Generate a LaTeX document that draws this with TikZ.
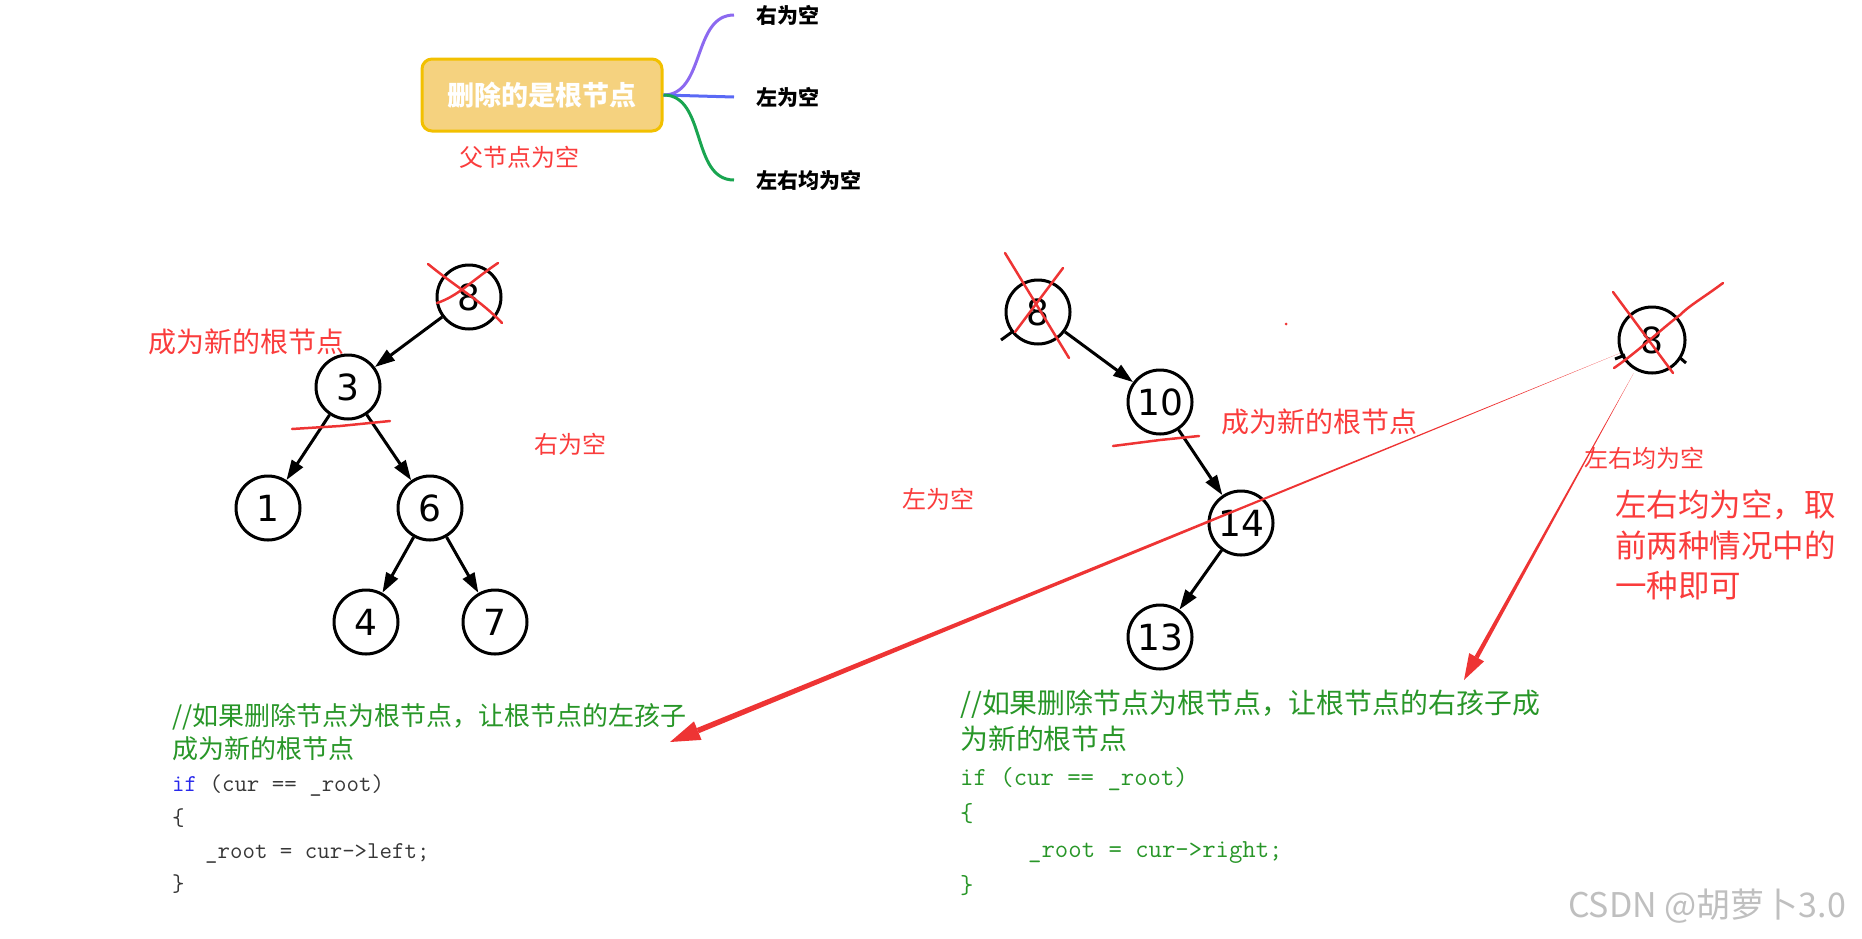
\documentclass[tikz,border=0pt]{standalone}
\usepackage{fontspec}
\newfontfamily\cjk{Noto Sans CJK SC}
\newfontfamily\numfont{DejaVu Sans}
\usetikzlibrary{arrows.meta,calc}

\begin{document}
\begin{tikzpicture}[
  x=1pt,y=-1pt,
  tnode/.style={circle,draw=black,line width=3pt,minimum size=64pt,inner sep=0pt,
    font=\numfont\fontsize{36}{36}\selectfont},
  tedge/.style={-{Triangle[length=20pt,width=13pt]},line width=3pt},
  cross/.style={draw=markred,line width=2.5pt,line cap=round},
  redlab/.style={text=labred,inner sep=0pt,font=\cjk\fontsize{#1}{#1}\selectfont},
  mmlab/.style={anchor=west,inner sep=0pt,font=\cjk\bfseries\fontsize{21}{21}\selectfont},
  branch/.style={line width=3pt,draw=#1}]

  \definecolor{markred}{RGB}{238,52,52}
  \definecolor{labred}{RGB}{250,60,60}
  \definecolor{boxfill}{RGB}{245,210,127}
  \definecolor{boxedge}{RGB}{242,192,0}
  \definecolor{brpurple}{RGB}{140,105,240}
  \definecolor{brblue}{RGB}{90,105,245}
  \definecolor{brgreen}{RGB}{25,165,80}
  \definecolor{cmtgreen}{RGB}{40,150,40}
  \definecolor{kwblue}{RGB}{40,40,235}
  \definecolor{codegray}{RGB}{55,55,55}

  \useasboundingbox (0,0) rectangle (1862,938);

  % ---- mind map ----
  \node[draw=boxedge,fill=boxfill,line width=3pt,rounded corners=10pt,
    minimum width=240pt,minimum height=72pt,text=white,
    font=\cjk\bfseries\fontsize{27}{27}\selectfont] (delroot) at (542,95) {删除的是根节点};
  \node[mmlab] (mmR) at (756,15) {右为空};
  \node[mmlab] (mmL) at (756,97) {左为空};
  \node[mmlab] (mmB) at (756,180) {左右均为空};
  \draw[branch=brpurple] (delroot.east) to[out=0,in=180] ([xshift=-22pt]mmR.west);
  \draw[branch=brblue] (delroot.east) -- ([xshift=-22pt]mmL.west);
  \draw[branch=brgreen] (delroot.east) to[out=0,in=180] ([xshift=-22pt]mmB.west);
  \node[redlab=24] (nullpar) at (519,157) {父节点为空};

  % ---- left tree: right is empty ----
  \node[tnode] (l8) at (469,297) {8};
  \node[tnode] (l3) at (348,387) {3};
  \node[tnode] (l1) at (268,508) {1};
  \node[tnode] (l6) at (430,508) {6};
  \node[tnode] (l4) at (366,622) {4};
  \node[tnode] (l7) at (495,622) {7};
  \draw[tedge] (l8) -- (l3);
  \draw[tedge] (l3) -- (l1);
  \draw[tedge] (l3) -- (l6);
  \draw[tedge] (l6) -- (l4);
  \draw[tedge] (l6) -- (l7);
  \draw[cross] (428,264) .. controls (460,290) and (480,300) .. (502,323);
  \draw[cross] (437,303) .. controls (458,296) and (470,282) .. (498,263);
  \draw[cross] (292,429) -- (340,426) -- (390,421);
  \node[redlab=28] (newrootL) at (246,342) {成为新的根节点};
  \node[redlab=24] (rempty) at (570,444) {右为空};

  % ---- middle tree: left is empty ----
  \node[tnode] (m8) at (1038,312) {8};
  \node[tnode] (m10) at (1160,402) {10};
  \node[tnode] (m14) at (1241,523) {14};
  \node[tnode] (m13) at (1160,637) {13};
  \draw[tedge] (m8) -- (m10);
  \draw[tedge] (m10) -- (m14);
  \draw[tedge] (m14) -- (m13);
  \draw[line width=3pt] (1001,340) -- (1012,332);
  \draw[cross] (1005,253) -- (1069,358);
  \draw[cross] (1063,268) -- (1015,332);
  \draw[cross] (1113,446) -- (1160,440) -- (1199,436);
  \fill[markred] (1286,324) circle (1.5);
  \node[redlab=28] (newrootM) at (1319,422) {成为新的根节点};
  \node[redlab=24] (lempty) at (938,499) {左为空};

  % ---- right: both empty ----
  \node[tnode,minimum size=66pt] (r8) at (1652,340) {8};
  \draw[line width=3pt] (1615,359) -- (1625,355);
  \draw[line width=3pt] (1679,357) -- (1686,363);
  \draw[cross] (1613,292) -- (1673,373);
  \draw[cross] (1723,283) .. controls (1700,300) and (1690,305) .. (1680,315)
    .. controls (1660,330) and (1640,350) .. (1614,368);
  \node[redlab=24] (bothempty) at (1644,458) {左右均为空};
  \node[redlab=31.5,anchor=north west,align=left,font=\cjk\fontsize{31.5}{40.5}\selectfont]
    (choose) at (1615,490) {左右均为空，取\\前两种情况中的\\一种即可};

  % ---- code ----
  \node[anchor=north west,align=left,inner sep=0pt,text=codegray,
    font=\ttfamily\fontsize{24.2}{33.3}\selectfont] (codeleft) at (172,703) {%
    {\cjk\fontsize{26}{26}\selectfont\color{cmtgreen}//如果删除节点为根节点，让根节点的左孩子}\\
    {\cjk\fontsize{26}{26}\selectfont\color{cmtgreen}成为新的根节点}\\
    {\color{kwblue}if} (cur == \_root)\\
    \{\\
    \hspace*{33pt}\_root = cur->left;\\
    \}};
  \node[anchor=north west,align=left,inner sep=0pt,text=cmtgreen,
    font=\ttfamily\fontsize{26}{36}\selectfont] (coderight) at (960,690) {%
    {\cjk\fontsize{27.9}{27.9}\selectfont//如果删除节点为根节点，让根节点的右孩子成}\\
    {\cjk\fontsize{27.9}{27.9}\selectfont 为新的根节点}\\
    if (cur == \_root)\\
    \{\\
    \hspace*{68pt}\_root = cur->right;\\
    \}};

  % ---- red arrows ----
  \coordinate (tipL) at (670,742);
  \coordinate (tipR) at (1464,680);
  \coordinate (a1s) at ($(r8)!34pt!(tipL)$);
  \coordinate (a1b) at ($(tipL)!30pt!(a1s)$);
  \fill[markred] (a1s) -- ($(a1b)!2.8pt!90:(a1s)$) -- ($(a1b)!2.8pt!-90:(a1s)$) -- cycle;
  \fill[markred] (tipL) -- ($(a1b)!10pt!90:(a1s)$) -- ($(a1b)!10pt!-90:(a1s)$) -- cycle;
  \coordinate (a2s) at ($(r8)!38pt!(tipR)$);
  \coordinate (a2b) at ($(tipR)!26pt!(a2s)$);
  \fill[markred] (a2s) -- ($(a2b)!2.2pt!90:(a2s)$) -- ($(a2b)!2.2pt!-90:(a2s)$) -- cycle;
  \fill[markred] (tipR) -- ($(a2b)!8.5pt!90:(a2s)$) -- ($(a2b)!8.5pt!-90:(a2s)$) -- cycle;

  % watermark
  \node[text=black!25,font=\cjk\fontsize{34}{34}\selectfont] (mark) at (1707,906) {CSDN @胡萝卜3.0};
\end{tikzpicture}
\end{document}
